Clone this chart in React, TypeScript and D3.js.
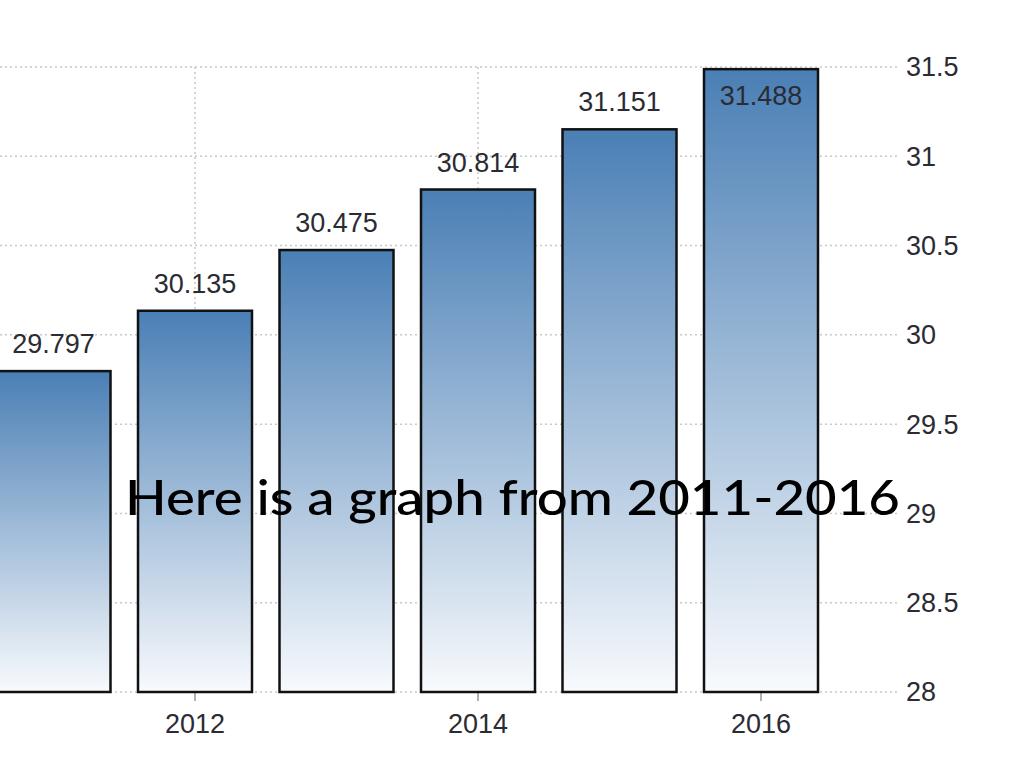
import React from "react";
import * as d3 from "d3";

const years = [2011, 2012, 2013, 2014, 2015, 2016];
const values = [29.797, 30.135, 30.475, 30.814, 31.151, 31.488];
const yTicks = [28, 28.5, 29, 29.5, 30, 30.5, 31, 31.5];
const xTicks = [2012, 2014, 2016];
const title = "Here is a graph from 2011-2016";

const W = 1024;
const H = 768;

export default function App() {
  const x = d3.scaleLinear().domain([2011, 2016]).range([53.5, 761]);
  const y = d3.scaleLinear().domain([28, 31.5]).range([692, 67]);
  const barW = 114;
  const plotRight = 898;
  const plotTop = 60;
  const fmt = d3.format(".3f");
  const labelFont = "'Liberation Sans', Arial, sans-serif";

  return (
    <svg
      width={W}
      height={H}
      style={{ position: "absolute", left: 0, top: 0, background: "#fff" }}
    >
      <defs>
        <linearGradient id="barGrad" x1="0" y1="0" x2="0" y2="1">
          <stop offset="0%" stopColor="#4a7fb5" />
          <stop offset="100%" stopColor="#f8fafd" />
        </linearGradient>
      </defs>
      <rect width={W} height={H} fill="#fff" />
      {/* horizontal gridlines */}
      {yTicks.map((t) => (
        <line
          key={"h" + t}
          x1={0}
          x2={plotRight}
          y1={y(t)}
          y2={y(t)}
          stroke="#c8c8c8"
          strokeWidth={1.5}
          strokeDasharray="2,3"
        />
      ))}
      {/* vertical gridlines */}
      {xTicks.map((t) => (
        <line
          key={"v" + t}
          x1={x(t)}
          x2={x(t)}
          y1={y(31.5)}
          y2={y(28)}
          stroke="#c8c8c8"
          strokeWidth={1.5}
          strokeDasharray="2,3"
        />
      ))}
      {/* x tick marks */}
      {xTicks.map((t) => (
        <line
          key={"tm" + t}
          x1={x(t)}
          x2={x(t)}
          y1={y(28)}
          y2={y(28) + 9}
          stroke="#b0b0b0"
          strokeWidth={2}
        />
      ))}
      {/* bars */}
      {years.map((yr, i) => (
        <rect
          key={"b" + yr}
          x={x(yr) - barW / 2}
          y={y(values[i])}
          width={barW}
          height={y(28) - y(values[i])}
          fill="url(#barGrad)"
          stroke="#111"
          strokeWidth={2.5}
        />
      ))}
      {/* value labels */}
      {years.map((yr, i) => {
        const top = y(values[i]);
        const inside = top - 40 < plotTop;
        return (
          <text
            key={"l" + yr}
            x={x(yr)}
            y={inside ? top + 36 : top - 18}
            textAnchor="middle"
            fontFamily={labelFont}
            fontSize={27}
            fill="#2b2b33"
          >
            {fmt(values[i])}
          </text>
        );
      })}
      {/* y tick labels */}
      {yTicks.map((t) => (
        <text
          key={"yl" + t}
          x={906}
          y={y(t)}
          dy="0.35em"
          fontFamily={labelFont}
          fontSize={27}
          fill="#2b2b33"
        >
          {d3.format("~g")(t)}
        </text>
      ))}
      {/* x tick labels */}
      {xTicks.map((t) => (
        <text
          key={"xl" + t}
          x={x(t)}
          y={733}
          textAnchor="middle"
          fontFamily={labelFont}
          fontSize={27}
          fill="#2b2b33"
        >
          {t}
        </text>
      ))}
      {/* overlay title */}
      <text
        x={125}
        y={515}
        fontFamily="Futura, 'Century Gothic', Lato, sans-serif"
        fontWeight={500}
        fontSize={48}
        fill="#000"
        textLength={775}
        lengthAdjust="spacingAndGlyphs"
      >
        {title}
      </text>
    </svg>
  );
}
